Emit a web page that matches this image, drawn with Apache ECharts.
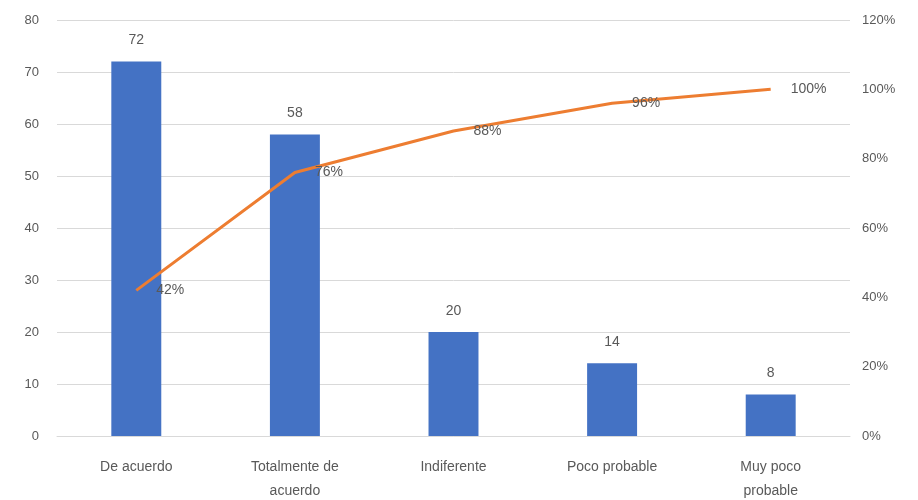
<!DOCTYPE html>
<html>
<head>
<meta charset="utf-8">
<script src="https://cdn.jsdelivr.net/npm/echarts@6/dist/echarts.min.js"></script>
<style>html,body{margin:0;padding:0;background:#fff}#c{width:918px;height:500px}</style>
</head>
<body>
<div id="c"></div>
<script>
const categories = ["De acuerdo", "Totalmente de\nacuerdo", "Indiferente", "Poco probable", "Muy poco\nprobable"];
const counts = [72, 58, 20, 14, 8];
const cumulativePct = [42, 76, 88, 96, 100];

const chart = echarts.init(document.getElementById('c'));
const txt = '#595959';
const font = 'Liberation Sans, Arial, sans-serif';
chart.setOption({
  animation: false,
  textStyle: { fontFamily: font },
  grid: { left: 57, right: 68, top: 20, bottom: 64, containLabel: false, outerBoundsMode: 'none' },
  xAxis: {
    type: 'category',
    data: categories,
    axisLine: { lineStyle: { color: '#d9d9d9' } },
    axisTick: { show: false },
    axisLabel: { color: txt, fontSize: 14, lineHeight: 24, margin: 19, interval: 0 }
  },
  yAxis: [
    {
      type: 'value', min: 0, max: 80, interval: 10,
      axisLine: { show: false }, axisTick: { show: false },
      axisLabel: { color: txt, fontSize: 13, margin: 18 },
      splitLine: { lineStyle: { color: '#d9d9d9' } }
    },
    {
      type: 'value', min: 0, max: 120, interval: 20,
      axisLine: { show: false }, axisTick: { show: false },
      axisLabel: { color: txt, fontSize: 13, margin: 12, formatter: '{value}%' },
      splitLine: { show: false }
    }
  ],
  series: [
    {
      type: 'bar',
      data: counts,
      barWidth: '31.5%',
      itemStyle: { color: '#4472C4' },
      label: { show: true, position: 'top', distance: 14, color: txt, fontSize: 14 }
    },
    {
      type: 'line',
      yAxisIndex: 1,
      data: cumulativePct,
      symbol: 'circle',
      symbolSize: 0,
      showSymbol: true,
      itemStyle: { color: '#ED7D31' },
      lineStyle: { color: '#ED7D31', width: 3 },
      labelLayout: { hideOverlap: false },
      label: { show: true, position: 'right', distance: 20, color: txt, opacity: 1, fontSize: 14, formatter: '{c}%', offset: [0, 3] }
    }
  ]
});
</script>
</body>
</html>
